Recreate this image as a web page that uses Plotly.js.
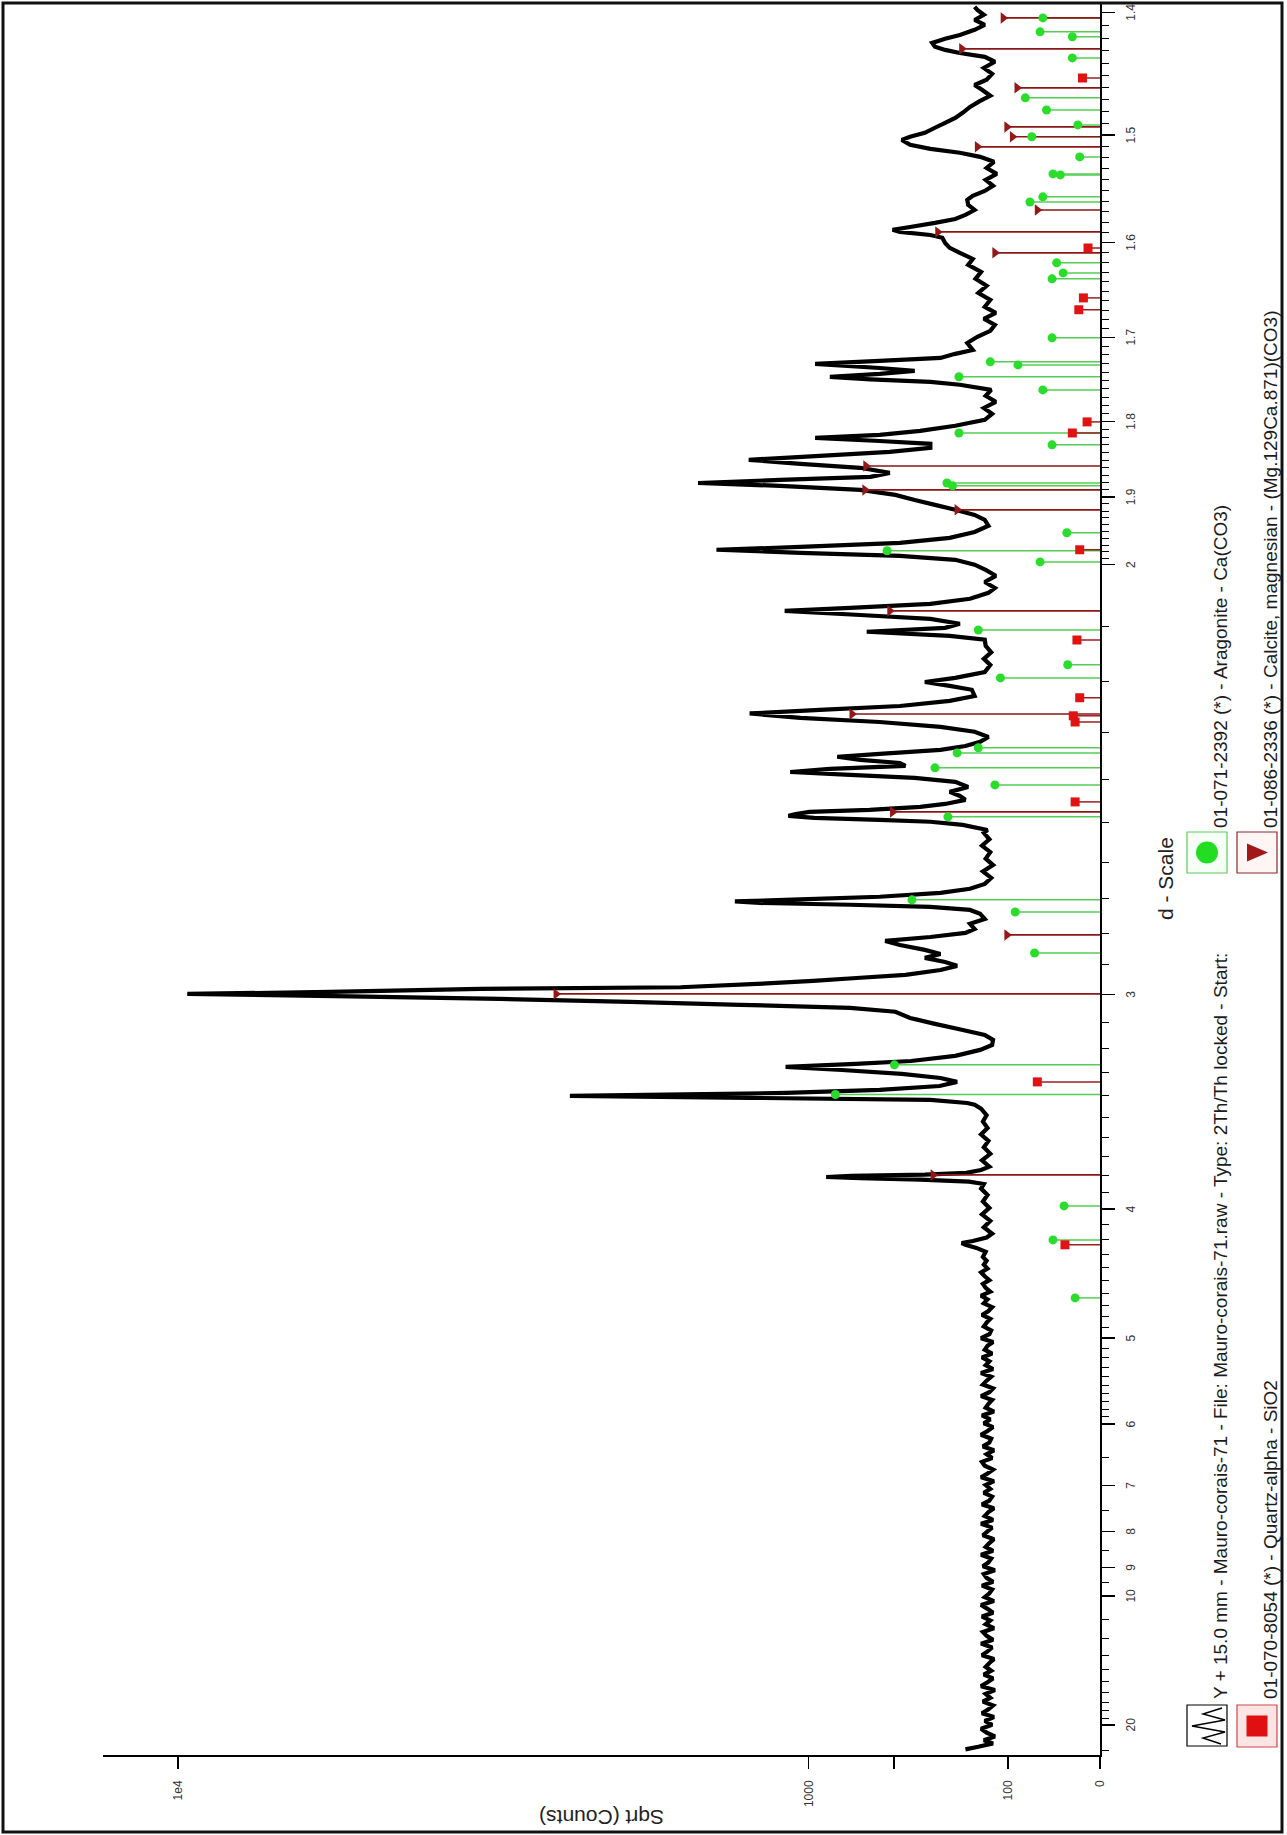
<!DOCTYPE html>
<html>
<head>
<meta charset="utf-8">
<script src="https://cdn.plot.ly/plotly-3.0.1.min.js"></script>
<style>
  html, body { margin: 0; padding: 0; background: #fff; overflow: hidden; }
  #stage { position: absolute; left: 0; top: 0; width: 1287px; height: 1835px; overflow: hidden; background: #fff; }
  /* The diffractogram is laid out landscape and turned a quarter turn counter-clockwise */
  #chart { position: absolute; left: 0; top: 0; width: 1835px; height: 1287px;
           transform-origin: 0 0; transform: translate(0px, 1835px) rotate(-90deg); }
</style>
</head>
<body>
<div id="stage"><div id="chart"></div></div>
<script>
// ---- Measured pattern: x = 1/d (1/Angstrom), y = sqrt(counts) ----
const patternInvD = [
  0.0405,0.0415,0.0428,
  0.0440,0.0455,0.0470,0.0485,0.0500,0.0515,0.0530,0.0545,0.0560,0.0575,
  0.0590,0.0605,0.0620,0.0635,0.0650,0.0665,0.0680,0.0695,0.0710,0.0725,
  0.0740,0.0755,0.0770,0.0785,0.0800,0.0815,0.0830,0.0845,0.0860,0.0875,
  0.0890,0.0905,0.0920,0.0935,0.0950,0.0965,0.0980,0.0995,0.1010,0.1025,
  0.1040,0.1055,0.1070,0.1085,0.1100,0.1115,0.1130,0.1145,0.1160,0.1175,
  0.1190,0.1205,0.1220,0.1235,0.1250,0.1265,0.1280,0.1295,0.1310,0.1325,
  0.1340,0.1355,0.1370,0.1385,0.1400,0.1415,0.1430,0.1445,0.1460,0.1475,
  0.1490,0.1505,0.1520,0.1535,0.1550,0.1565,0.1580,0.1595,0.1610,0.1625,
  0.1640,0.1655,0.1670,0.1685,0.1700,0.1715,0.1730,0.1745,0.1760,0.1775,
  0.1790,0.1805,0.1820,0.1835,0.1850,0.1865,0.1880,0.1895,0.1910,0.1925,
  0.1940,0.1955,0.1970,0.1985,0.2000,0.2015,0.2030,0.2045,0.2060,0.2075,
  0.2090,0.2105,0.2120,0.2135,0.2150,0.2165,0.2180,0.2195,0.2210,0.2225,
  0.2240,0.2255,0.2270,0.2285,0.2300,0.2315,
  0.2335,0.2350,0.2362,0.2369,0.2377,0.2390,
  0.2405,0.2430,0.2455,0.2480,0.2505,0.2530,0.2555,0.2580,
  0.2598,0.2607,0.2615,0.2621,0.2625,0.2629,0.2634,0.2641,0.2652,
  0.2665,0.2690,0.2715,0.2740,0.2765,0.2790,0.2815,0.2840,0.2865,0.2890,
  0.2905,0.2912,0.2924,0.2932,0.2940,0.2946,0.2951,0.2963,0.2978,0.2994,
  0.3009,0.3025,0.3040,0.3052,0.3064,0.3075,0.3095,0.3118,0.3137,0.3157,
  0.3176,0.3196,0.3219,0.3242,0.3266,0.3281,0.3293,0.3304,0.3316,0.3326,
  0.3335,0.3343,0.3355,0.3361,0.3374,0.3386,0.3397,0.3409,0.3428,0.3444,
  0.3459,0.3475,0.3490,0.3506,0.3525,0.3541,0.3556,0.3572,0.3587,0.3607,0.3626,
  0.3646,0.3661,0.3673,0.3681,0.3688,0.3694,0.3702,0.3712,0.3727,0.3743,0.3762,
  0.3785,0.3810,0.3835,0.3860,0.3885,0.3910,0.3935,0.3960,
  0.3971,0.3991,0.4003,0.4010,0.4018,0.4026,0.4033,0.4041,0.4049,0.4061,
  0.4072,0.4088,0.4103,0.4119,0.4138,0.4158,0.4173,0.4185,0.4196,0.4208,
  0.4220,0.4231,0.4243,0.4255,0.4266,0.4282,0.4297,0.4313,0.4332,0.4352,
  0.4371,0.4390,0.4406,0.4423,0.4437,0.4452,0.4472,0.4491,0.4515,0.4530,
  0.4545,0.4561,0.4584,0.4611,0.4635,0.4660,0.4685,
  0.4709,0.4724,0.4740,0.4755,0.4771,0.4790,0.4805,0.4821,0.4833,0.4848,0.4868,0.4891,
  0.4910,0.4933,0.4957,0.4980,0.5000,
  0.5019,0.5034,0.5046,0.5058,0.5069,0.5085,0.5104,0.5127,0.5151,0.5174,
  0.5193,0.5213,0.5232,0.5251,0.5271,0.5290,0.5306,0.5317,0.5329,0.5341,0.5356,0.5376,
  0.5391,0.5407,0.5422,0.5438,0.5453,0.5469,0.5480,0.5492,0.5504,0.5519,0.5539,0.5562,
  0.5585,0.5608,0.5632,0.5655,0.5678,0.5698,
  0.5709,0.5719,0.5729,0.5740,0.5752,0.5763,0.5779,0.5791,0.5802,0.5818,0.5833,0.5860,0.5884,0.5907,
  0.5930,0.5954,0.5977,0.6000,0.6027,0.6054,0.6082,0.6109,0.6136,0.6163,0.6186,0.6210,
  0.6229,0.6248,0.6268,0.6279,0.6291,0.6299,0.6310,0.6326,0.6341,0.6357,0.6376,
  0.6396,0.6415,0.6431,0.6450,0.6470,0.6493,0.6516,0.6539,0.6563,0.6582,
  0.6598,0.6613,0.6629,0.6648,0.6660,0.6675,0.6695,0.6714,0.6733,0.6753,
  0.6776,0.6799,0.6819,0.6842,0.6861,0.6881,0.6904,0.6927,0.6951,0.6970,
  0.6985,0.6997,0.7009,0.7024,0.7040,0.7055,0.7075,0.7094,0.7113,0.7133,0.7152,0.7164
];
const patternSqrtCounts = [
  14.6,13.2,11.6,
  12.6,11.4,12.3,12.9,11.7,12.5,11.5,12.8,12.1,11.6,
  12.7,11.9,12.4,11.4,12.9,12.2,11.6,12.6,11.8,12.4,
  12.0,11.5,12.8,12.2,11.7,12.9,11.6,12.3,12.7,11.5,
  12.4,11.9,12.8,11.6,12.2,12.9,11.5,12.5,12.0,11.7,
  12.8,11.6,12.3,12.6,11.4,12.7,12.1,11.8,12.9,11.6,
  12.4,12.0,11.5,12.7,12.2,11.7,12.9,11.6,12.5,12.1,
  11.5,12.8,12.0,11.7,12.6,11.9,12.4,11.5,12.9,12.2,
  11.6,12.5,12.8,11.7,12.3,11.5,12.7,12.0,11.8,12.9,
  12.2,11.6,12.6,11.9,12.8,11.5,12.4,12.1,11.7,12.9,
  12.0,11.6,12.7,12.3,11.8,12.9,11.6,12.4,12.0,12.8,
  11.7,12.5,12.2,11.6,12.9,12.0,11.8,12.6,12.3,11.9,
  12.8,12.1,11.7,12.6,12.2,12.9,11.9,12.4,12.7,12.0,
  12.5,12.9,12.2,12.6,12.3,12.7,
  12.4,13.4,14.6,15.0,13.8,12.3,
  11.7,12.6,11.9,12.8,12.0,12.7,12.2,12.9,
  12.6,14.2,19.5,26.0,29.7,27.0,19.0,14.5,12.9,
  12.0,12.8,11.9,12.6,12.1,12.9,12.2,12.7,12.3,12.9,
  13.6,14.4,18.4,38.0,57.5,45.0,34.0,23.9,17.4,15.5,
  17.3,21.5,28.0,34.1,26.5,20.5,15.7,13.0,11.7,11.6,
  12.5,15.0,17.9,20.6,22.2,27.1,39.0,51.0,65.1,81.3,
  99.0,83.5,67.2,45.5,37.2,31.1,26.4,21.1,17.3,15.5,
  16.8,19.0,17.3,19.0,21.7,23.3,18.4,14.6,13.6,14.1,12.5,
  13.0,14.1,18.4,27.1,36.9,39.6,32.5,23.9,17.3,14.1,12.5,
  11.8,12.7,11.6,12.4,11.9,12.8,12.0,12.6,
  12.2,14.9,18.4,23.9,31.0,33.8,33.0,31.5,25.0,19.5,
  16.8,14.6,15.2,16.3,14.3,15.7,20.1,27.1,33.6,29.3,
  21.1,21.7,26.0,28.5,23.9,17.3,14.6,13.0,12.1,13.6,
  17.3,23.9,32.5,38.0,30.4,21.7,16.3,13.6,13.9,16.3,
  19.0,15.7,12.5,11.9,12.6,11.8,12.4,
  12.5,16.3,25.3,16.8,15.2,18.4,26.0,34.2,27.1,18.4,14.1,12.1,
  11.4,12.5,11.3,12.4,13.6,
  15.7,21.7,32.5,41.6,32.5,21.7,16.3,13.6,12.1,12.5,
  13.6,15.7,17.9,20.1,22.2,26.0,34.7,43.6,34.7,24.9,22.8,26.0,
  32.5,38.1,30.4,22.8,18.4,18.4,23.9,30.9,23.9,19.5,15.7,12.5,
  11.7,12.6,11.3,12.4,11.8,15.2,
  18.4,24.9,29.3,23.9,20.1,23.9,30.9,23.9,17.3,15.7,13.8,14.4,13.3,11.9,
  11.4,12.6,11.3,12.5,11.9,13.2,12.3,13.5,12.9,14.3,13.8,15.2,
  16.3,16.8,17.1,18.4,21.7,22.5,20.6,17.9,15.7,14.6,13.6,
  14.3,14.4,13.8,12.5,11.6,12.4,11.2,12.3,11.5,13.0,
  15.2,18.4,20.6,21.5,20.6,19.0,17.9,16.8,15.7,14.9,
  14.1,13.0,11.9,12.8,13.6,12.3,11.7,12.6,11.4,12.5,
  15.2,16.8,17.9,18.2,16.8,15.2,13.6,12.5,13.6,12.6,13.3,13.6
];

// ---- Reference cards: line positions (1/d) and stick heights (sqrt counts) ----
const aragoniteInvD = [0.2156,0.2381,0.2513,0.2945,0.3060,0.3494,0.3653,0.3700,0.4022,0.4146,
  0.4212,0.4270,0.4290,0.4561,0.4612,0.4747,0.5011,0.5054,0.5124,0.5306,0.5317,0.5465,0.5511,
  0.5678,0.5729,0.5775,0.5787,0.5880,0.6109,0.6132,0.6171,0.6407,0.6427,0.6512,0.6516,0.6582,
  0.6660,0.6706,0.6764,0.6811,0.6966,0.7048,0.7067,0.7121];
const aragoniteSqrt = [2.7,5.1,3.9,28.7,22.3,7.1,9.2,20.4,16.5,11.4,
  17.9,15.5,13.2,10.8,3.5,13.2,6.5,23.1,3.6,16.0,16.6,5.2,15.3,
  6.2,15.3,8.9,11.9,5.2,5.2,4.0,4.7,7.6,6.2,4.3,5.1,2.2,
  7.4,2.4,5.8,8.1,3.0,3.0,6.5,6.2];

const calciteInvD = [0.2633,0.3335,0.3564,0.4041,0.4421,0.4821,0.5213,0.5290,0.5383,0.6210,
  0.6291,0.6376,0.6621,0.6660,0.6698,0.6850,0.7001,0.7121];
const calciteSqrt = [18.1,59.0,10.1,22.5,26.9,22.8,15.5,25.5,25.4,11.4,
  17.6,6.8,13.3,9.5,10.1,9.0,15.0,10.5];

const quartzInvD = [0.2362,0.2994,0.4080,0.4390,0.4414,0.4484,0.4708,0.5058,0.5511,0.5554,
  0.5989,0.6035,0.6229,0.6888];
const quartzSqrt = [3.8,6.8,2.7,2.7,2.9,2.2,2.5,2.2,3.0,1.4,2.3,1.8,1.3,1.9];

// ---- Axis labels ----
const dMajor = [20,10,9,8,7,6,5,4,3,2,1.9,1.8,1.7,1.6,1.5,1.4];
const dMajorText = ['20','10','9','8','7','6','5','4','3','2','1.9','1.8','1.7','1.6','1.5','1.4'];
const countTicks = [0,100,500,1000,10000];
const countTickText = ['0','100','','1000','1e4'];

const legendTexts = {
  scan: 'Y + 15.0 mm - Mauro-corais-71 - File: Mauro-corais-71.raw - Type: 2Th/Th locked - Start:',
  quartz: '01-070-8054 (*) - Quartz-alpha - SiO2',
  aragonite: '01-071-2392 (*) - Aragonite - Ca(CO3)',
  calcite: '01-086-2336 (*) - Calcite, magnesian - (Mg.129Ca.871)(CO3)'
};

// minor d-scale ticks
const dMinor = [25,19,18,17,16,15,14,13,12,11,9.5,8.5,7.5,6.5];
for (let k = 21; k <= 59; k++) { if (k % 10) dMinor.push(k / 10); }
for (let k = 141; k <= 199; k++) { if (k % 10) dMinor.push(k / 100); }

// ---- Page geometry (landscape before the quarter turn) ----
const W = 1835, H = 1287;
const M = { l: 80, r: 4, t: 103, b: 187 };
const PW = W - M.l - M.r, PH = H - M.t - M.b;
const px = X => (X - M.l) / PW;
const py = Y => (M.t + PH - Y) / PH;

function sticks(xs, ys) {
  const x = [], y = [];
  xs.forEach((v, i) => { x.push(v, v, null); y.push(0, ys[i], null); });
  return { x, y };
}

const FONT = 'Liberation Sans, Arial, Helvetica, sans-serif';

const aSt = sticks(aragoniteInvD, aragoniteSqrt);
const cSt = sticks(calciteInvD, calciteSqrt);
const qSt = sticks(quartzInvD, quartzSqrt);

const traces = [
  { x: patternInvD, y: patternSqrtCounts, type: 'scatter', mode: 'lines',
    line: { color: '#000', width: 4.2, simplify: false }, hoverinfo: 'skip' },
  { x: aSt.x, y: aSt.y, type: 'scatter', mode: 'lines', line: { color: '#55cc55', width: 1.5 }, hoverinfo: 'skip' },
  { x: cSt.x, y: cSt.y, type: 'scatter', mode: 'lines', line: { color: '#8a1616', width: 1.7 }, hoverinfo: 'skip' },
  { x: qSt.x, y: qSt.y, type: 'scatter', mode: 'lines', line: { color: '#9a2020', width: 1.5 }, hoverinfo: 'skip' },
  { x: aragoniteInvD, y: aragoniteSqrt, type: 'scatter', mode: 'markers',
    marker: { symbol: 'circle', size: 9, color: '#2add2a' }, hoverinfo: 'skip' },
  { x: calciteInvD, y: calciteSqrt, type: 'scatter', mode: 'markers',
    marker: { symbol: 'triangle-down', size: 10, color: '#951818' }, hoverinfo: 'skip' },
  { x: quartzInvD, y: quartzSqrt, type: 'scatter', mode: 'markers',
    marker: { symbol: 'square', size: 9, color: '#e01212' }, hoverinfo: 'skip' }
];

function polyPath(pts) {
  return pts.map((p, i) => (i ? 'L' : 'M') + px(p[0]).toFixed(5) + ',' + py(p[1]).toFixed(5)).join(' ');
}

const shapes = [
  // page frame
  { type: 'rect', xref: 'paper', yref: 'paper', x0: px(3), x1: px(1832), y0: py(1282), y1: py(3),
    line: { color: '#111', width: 3 }, layer: 'above' },
  // legend boxes
  { type: 'rect', xref: 'paper', yref: 'paper', x0: px(89), x1: px(130), y0: py(1227), y1: py(1187),
    line: { color: '#000', width: 1.2 }, fillcolor: '#fff' },
  { type: 'rect', xref: 'paper', yref: 'paper', x0: px(88), x1: px(130), y0: py(1277), y1: py(1237),
    line: { color: '#d04848', width: 1.2 }, fillcolor: '#fbe4e4' },
  { type: 'rect', xref: 'paper', yref: 'paper', x0: px(962), x1: px(1003), y0: py(1227), y1: py(1187),
    line: { color: '#5ccc5c', width: 1.2 }, fillcolor: '#f6fff6' },
  { type: 'rect', xref: 'paper', yref: 'paper', x0: px(962), x1: px(1003), y0: py(1277), y1: py(1237),
    line: { color: '#8e2a2a', width: 1.2 }, fillcolor: '#fff5f5' },
  // legend symbols
  { type: 'path', xref: 'paper', yref: 'paper',
    path: polyPath([[91,1221],[97,1203],[103,1225],[109,1192],[115,1225],[121,1203],[127,1222]]),
    line: { color: '#000', width: 1.4 } },
  { type: 'rect', xref: 'paper', yref: 'paper', x0: px(98.5), x1: px(119.5), y0: py(1267.5), y1: py(1246.5),
    line: { width: 0 }, fillcolor: '#e01010' },
  { type: 'circle', xref: 'paper', yref: 'paper', x0: px(971.5), x1: px(993.5), y0: py(1218), y1: py(1196),
    line: { width: 0 }, fillcolor: '#22dd22' },
  { type: 'path', xref: 'paper', yref: 'paper',
    path: polyPath([[973.5,1247],[991.5,1247],[982.5,1268]]) + ' Z',
    line: { width: 0 }, fillcolor: '#a01818' }
];

const legendFont = { family: FONT, size: 19, color: '#1c1c1c' };
const annotations = [
  { xref: 'paper', yref: 'paper', x: px(134), y: py(1220), xanchor: 'left', yanchor: 'middle',
    showarrow: false, text: legendTexts.scan, font: legendFont },
  { xref: 'paper', yref: 'paper', x: px(134), y: py(1270), xanchor: 'left', yanchor: 'middle',
    showarrow: false, text: legendTexts.quartz, font: legendFont },
  { xref: 'paper', yref: 'paper', x: px(1005), y: py(1220), xanchor: 'left', yanchor: 'middle',
    showarrow: false, text: legendTexts.aragonite, font: legendFont },
  { xref: 'paper', yref: 'paper', x: px(1005), y: py(1270), xanchor: 'left', yanchor: 'middle',
    showarrow: false, text: legendTexts.calcite, font: legendFont },
  // axis titles
  { xref: 'paper', yref: 'paper', x: px(957), y: py(1165), xanchor: 'center', yanchor: 'middle',
    showarrow: false, text: 'd - Scale', font: { family: FONT, size: 21, color: '#222' } },
  { xref: 'paper', yref: 'paper', x: px(17), y: py(601), xanchor: 'center', yanchor: 'middle',
    showarrow: false, textangle: -90, text: 'Sqrt (Counts)', font: { family: FONT, size: 21, color: '#222' } }
];

const layout = {
  width: W, height: H,
  margin: { l: M.l, r: M.r, t: M.t, b: M.b, pad: 0 },
  paper_bgcolor: '#fff', plot_bgcolor: '#fff',
  showlegend: false,
  font: { family: FONT, color: '#222' },
  xaxis: {
    range: [0.0383, 0.7175], fixedrange: true,
    showline: true, linecolor: '#000', linewidth: 2,
    showgrid: false, zeroline: false,
    ticks: 'outside', ticklen: 13, tickwidth: 1.5, tickcolor: '#000',
    tickmode: 'array', tickvals: dMajor.map(d => 1 / d), ticktext: dMajorText,
    tickfont: { family: FONT, size: 12, color: '#333' },
    ticklabelstandoff: 6,
    minor: { tickmode: 'array', tickvals: dMinor.map(d => 1 / d), ticks: 'outside',
             ticklen: 7, tickwidth: 1, tickcolor: '#000', showgrid: false }
  },
  yaxis: {
    range: [0, 108.14], fixedrange: true,
    showline: true, linecolor: '#000', linewidth: 2,
    showgrid: false, zeroline: false,
    ticks: 'outside', ticklen: 12, tickwidth: 1.5, tickcolor: '#000',
    tickmode: 'array', tickvals: countTicks.map(c => Math.sqrt(c)), ticktext: countTickText,
    tickfont: { family: FONT, size: 12, color: '#333' },
    ticklabelstandoff: 9
  },
  shapes: shapes,
  annotations: annotations
};

Plotly.newPlot('chart', traces, layout, { staticPlot: true, displayModeBar: false });
</script>
</body>
</html>
